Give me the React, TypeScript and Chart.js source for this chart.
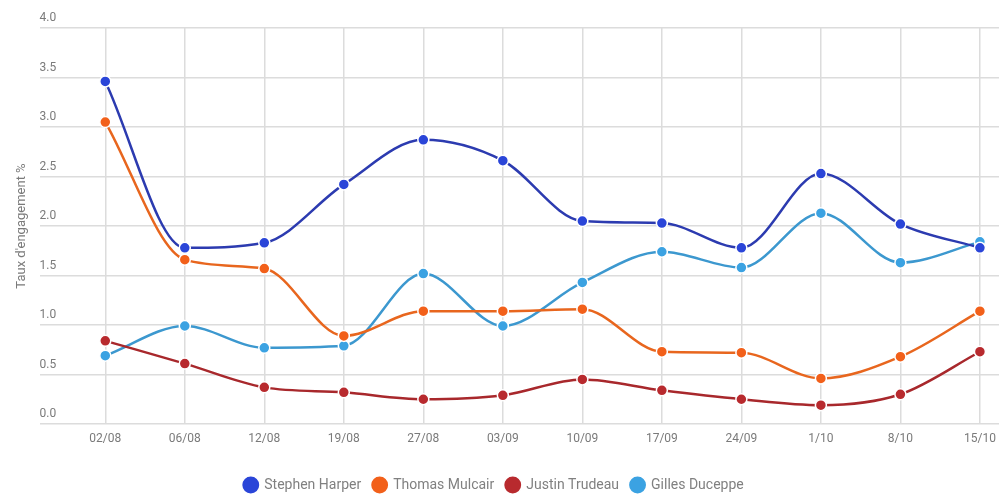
import React, { useEffect, useRef } from "react";
import { Chart, registerables } from "chart.js";

Chart.register(...registerables);

const categories = ["02/08", "06/08", "12/08", "19/08", "27/08", "03/09", "10/09", "17/09", "24/09", "1/10", "8/10", "15/10"];
const harper = [3.46, 1.78, 1.83, 2.42, 2.87, 2.66, 2.05, 2.03, 1.78, 2.53, 2.02, 1.78];
const mulcair = [3.05, 1.66, 1.57, 0.89, 1.14, 1.14, 1.16, 0.73, 0.72, 0.46, 0.68, 1.14];
const trudeau = [0.84, 0.61, 0.37, 0.32, 0.25, 0.29, 0.45, 0.34, 0.25, 0.19, 0.30, 0.73];
const duceppe = [0.69, 0.99, 0.77, 0.79, 1.52, 0.99, 1.43, 1.74, 1.58, 2.13, 1.63, 1.84];
const yTicks = [0, 0.5, 1, 1.5, 2, 2.5, 3, 3.5, 4];

const FONT = "'Roboto', sans-serif";

function toPoints(values: number[]) {
  return values.map((v, i) => ({ x: i, y: v }));
}

const shiftLegend = {
  id: "shiftLegend",
  afterLayout(chart: any) {
    const l = chart.legend;
    if (l) {
      l.left -= 9;
      l.right -= 9;
    }
  },
};

export default function App() {
  const ref = useRef<HTMLCanvasElement | null>(null);

  useEffect(() => {
    if (!ref.current) return;
    const mk = (label: string, values: number[], line: string, point: string) => ({
      label,
      data: toPoints(values),
      borderColor: line,
      backgroundColor: point,
      pointBackgroundColor: point,
      pointBorderColor: "#ffffff",
      pointBorderWidth: 1.5,
      pointRadius: 5.5,
      borderWidth: 2.5,
      cubicInterpolationMode: "monotone",
      fill: false,
    });
    const chart = new Chart(ref.current, {
      type: "line",
      data: {
        datasets: [
          mk("Stephen Harper", harper, "#2c3bb0", "#2a45d8"),
          mk("Thomas Mulcair", mulcair, "#e8661e", "#f2601a"),
          mk("Justin Trudeau", trudeau, "#a8282c", "#b82a2e"),
          mk("Gilles Duceppe", duceppe, "#3c98cf", "#3ba2e2"),
        ],
      },
      plugins: [shiftLegend],
      options: {
        animation: false,
        responsive: false,
        maintainAspectRatio: false,
        layout: { padding: { left: 0, right: 0, top: 28, bottom: -8 } },
        plugins: {
          tooltip: { enabled: false },
          legend: {
            position: "bottom",
            labels: {
              usePointStyle: true,
              pointStyle: "circle",
              boxWidth: 13,
              boxHeight: 13,
              padding: 12,
              color: "#808080",
              font: { family: FONT, size: 14 },
            },
          },
        },
        scales: {
          x: {
            type: "linear",
            min: -0.826,
            max: 11.24,
            afterBuildTicks: (axis: any) => {
              axis.ticks = categories.map((_, i) => ({ value: i }));
            },
            afterFit: (axis: any) => {
              axis.height = 42;
            },
            ticks: {
              callback: (v: any) => categories[Number(v)] ?? "",
              color: "#7a7a7a",
              font: { family: FONT, size: 12 },
              padding: 8,
              maxRotation: 0,
              autoSkip: false,
            },
            grid: { color: "#dcdcdc", lineWidth: 1.5, drawTicks: false },
            border: { display: false },
          },
          y: {
            min: 0,
            max: 4,
            afterBuildTicks: (axis: any) => {
              axis.ticks = yTicks.map((v) => ({ value: v }));
            },
            ticks: {
              mirror: true,
              padding: 0,
              labelOffset: -10,
              color: "#7a7a7a",
              font: { family: FONT, size: 12 },
              callback: (v: any) => Number(v).toFixed(1),
            },
            grid: { color: "#dcdcdc", lineWidth: 1.5, drawTicks: false },
            border: { display: false },
            title: {
              display: true,
              text: "Taux d'engagement %",
              color: "#7a7a7a",
              font: { family: FONT, size: 13 },
              padding: { top: 14, bottom: 10 },
            },
          },
        },
      },
    });
    return () => chart.destroy();
  }, []);

  return (
    <div style={{ position: "absolute", left: 0, top: 0, width: 1006, height: 494, background: "#fff" }}>
      <canvas ref={ref} width={1006} height={494} />
    </div>
  );
}
